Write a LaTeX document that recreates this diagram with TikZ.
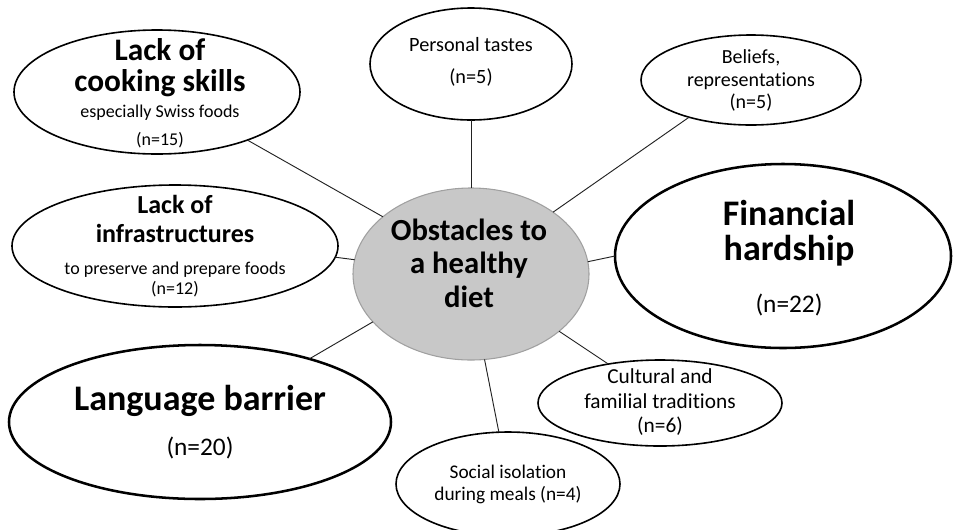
\documentclass[tikz,border=0pt]{standalone}
\usepackage{fontspec}
\setmainfont[Ligatures={NoCommon}]{Carlito}
\usetikzlibrary{shapes.geometric}
\definecolor{hubfill}{HTML}{C8C8C8}
\definecolor{hubline}{HTML}{A0A0A0}
\definecolor{linkc}{HTML}{222222}
\newcommand{\fsz}[1]{\fontsize{#1}{#1}\selectfont}
\begin{document}
\begin{tikzpicture}[x=0.75pt,y=-0.75pt,
  bub/.style={ellipse,draw=black,line width=1.2pt,fill=white,inner sep=0pt,outer sep=0pt},
  bigbub/.style={bub,line width=1.9pt},
  hub/.style={ellipse,draw=hubline,fill=hubfill,line width=0.8pt,inner sep=0pt,outer sep=0pt},
  link/.style={draw=linkc,line width=0.7pt},
  txt/.style={anchor=base,inner sep=0pt,text=black},
]
\useasboundingbox (0,0) rectangle (955,529);
\clip (0,0) rectangle (955,529);
% bubbles
\node[hub, minimum width=177pt, minimum height=129pt] (C) at (471,274) {};
\node[bub, minimum width=151.5pt, minimum height=84pt] (P) at (471,64) {};
\node[bub, minimum width=165pt, minimum height=67.5pt] (B) at (751,80) {};
\node[bub, minimum width=214.5pt, minimum height=93pt] (K) at (157,92) {};
\node[bub, minimum width=244.5pt, minimum height=91.5pt] (I) at (175,246) {};
\node[bigbub, minimum width=252pt, minimum height=138pt] (F) at (783,256) {};
\node[bigbub, minimum width=286.5pt, minimum height=115.5pt] (L) at (200,422) {};
\node[bub, minimum width=168pt, minimum height=78pt] (S) at (508,484) {};
\node[bub, minimum width=183pt, minimum height=64.5pt] (U) at (660,403) {};
% connectors
\draw[link] (C.90) -- (P.270);
\draw[link] (C.37) -- (B.211);
\draw[link] (C.147) -- (K.332);
\draw[link] (C.173) -- (I.356);
\draw[link] (C.6) -- (F.180);
\draw[link] (C.206) -- (L.30);
\draw[link] (C.279) -- (S.100);
\draw[link] (C.327) -- (U.143);
% texts: hub
\node[txt] (c1) at (469,240) {\fsz{23}\bfseries Obstacles to};
\node[txt] (c2) at (469,273) {\fsz{23}\bfseries a healthy};
\node[txt] (c3) at (469,307) {\fsz{23}\bfseries diet};
% cooking
\node[txt] (k1) at (160,60) {\fsz{23.5}\bfseries Lack of};
\node[txt] (k2) at (160,91) {\fsz{23.5}\bfseries cooking skills};
\node[txt] (k3) at (160,117) {\fsz{13.5}especially Swiss foods};
\node[txt] (k4) at (160,145) {\fsz{13.5}(n=15)};
% infrastructures
\node[txt] (i1) at (175,213) {\fsz{19.5}\bfseries Lack of};
\node[txt] (i2) at (175,242) {\fsz{19.5}\bfseries infrastructures};
\node[txt] (i3) at (175,274) {\fsz{13.5}to preserve and prepare foods};
\node[txt] (i4) at (175,294) {\fsz{13.5}(n=12)};
% financial
\node[txt] (f1) at (789,225) {\fsz{27}\bfseries Financial};
\node[txt] (f2) at (789,260) {\fsz{27}\bfseries hardship};
\node[txt] (f3) at (789,312) {\fsz{19}(n=22)};
% language
\node[txt] (l1) at (200,410) {\fsz{27}\bfseries Language barrier};
\node[txt] (l2) at (200,455) {\fsz{19}(n=20)};
% personal
\node[txt] (p1) at (471,51) {\fsz{15.2}Personal tastes};
\node[txt] (p2) at (471,83) {\fsz{15.2}(n=5)};
% beliefs
\node[txt] (b1) at (751,63) {\fsz{15}Beliefs,};
\node[txt] (b2) at (751,86) {\fsz{15}representations};
\node[txt] (b3) at (751,108) {\fsz{15}(n=5)};
% cultural
\node[txt] (u1) at (660,383) {\fsz{16}Cultural and};
\node[txt] (u2) at (660,408) {\fsz{16}familial traditions};
\node[txt] (u3) at (660,432) {\fsz{16}(n=6)};
% social
\node[txt] (s1) at (508,478) {\fsz{14.5}Social isolation};
\node[txt] (s2) at (508,500) {\fsz{14.5}during meals (n=4)};
\end{tikzpicture}
\end{document}
